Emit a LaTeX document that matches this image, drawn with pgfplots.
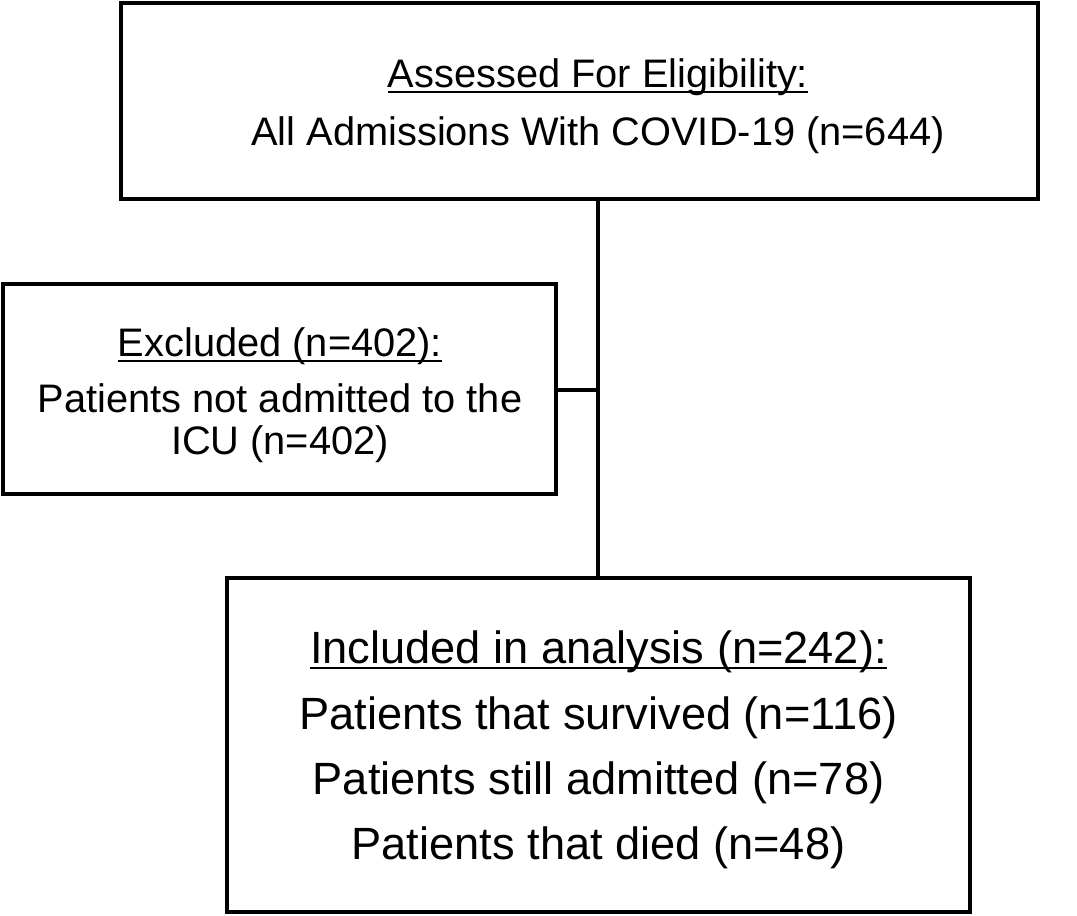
\documentclass[border=0pt]{standalone}
\usepackage{fontspec}
\setmainfont{Liberation Sans}
\usepackage{pgfplots}
\pgfplotsset{compat=1.18}
\newcommand\ul[1]{\setbox0\hbox{#1}\rlap{\rule[-3.2pt]{\wd0}{1.1pt}}\box0}
\begin{document}
\begin{tikzpicture}
\begin{axis}[
  width=538.5pt, height=458pt, scale only axis,
  xmin=0, xmax=1077, ymin=0, ymax=916, y dir=reverse,
  hide axis, clip=false]
\addplot[draw=none, mark=none] coordinates {(0,0) (1077,0) (1077,916) (0,916)};
\addplot[black, line width=1.6pt, line join=miter, mark=none] coordinates {(121,3) (1038,3) (1038,199) (121,199)} -- cycle;
\addplot[black, line width=1.6pt, line join=miter, mark=none] coordinates {(3,284) (556,284) (556,494) (3,494)} -- cycle;
\addplot[black, line width=1.6pt, line join=miter, mark=none] coordinates {(227,578) (970,578) (970,912) (227,912)} -- cycle;
\addplot[black, line width=1.6pt, mark=none] coordinates {(598,199) (598,578)};
\addplot[black, line width=1.6pt, mark=none] coordinates {(556,390) (598,390)};
\begin{scope}[every node/.style={anchor=base, inner sep=0pt}]
\node[font=\fontsize{19.9}{24}\selectfont] at (axis cs:598,87) {\ul{Assessed For Eligibility:}};
\node[font=\fontsize{19.9}{24}\selectfont] at (axis cs:598,145) {All Admissions With COVID-19 (n=644)};
\node[font=\fontsize{19.9}{24}\selectfont] at (axis cs:280,356) {\ul{Excluded (n=402):}};
\node[font=\fontsize{19.9}{24}\selectfont] at (axis cs:280,412) {Patients not admitted to the};
\node[font=\fontsize{19.9}{24}\selectfont] at (axis cs:280,454) {ICU (n=402)};
\node[font=\fontsize{22.6}{27}\selectfont] at (axis cs:598.5,663) {\ul{Included in analysis (n=242):}};
\node[font=\fontsize{22.6}{27}\selectfont] at (axis cs:598.5,729) {Patients that survived (n=116)};
\node[font=\fontsize{22.6}{27}\selectfont] at (axis cs:598.5,794) {Patients still admitted (n=78)};
\node[font=\fontsize{22.6}{27}\selectfont] at (axis cs:598.5,859) {Patients that died (n=48)};
\end{scope}
\end{axis}
\end{tikzpicture}
\end{document}
